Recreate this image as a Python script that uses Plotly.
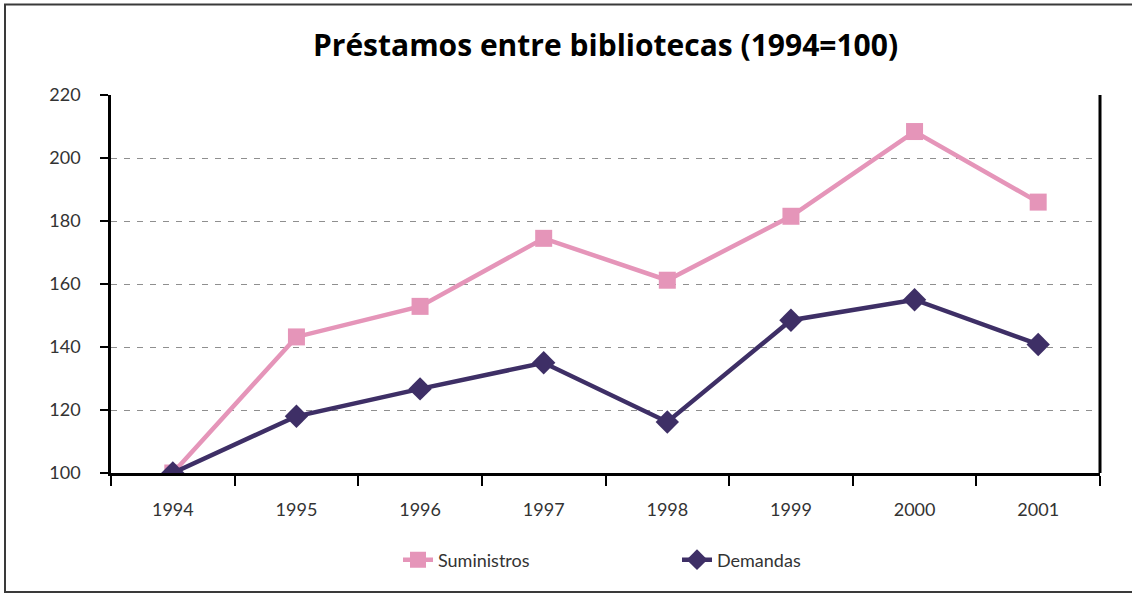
import plotly.graph_objects as go

years = ["1994", "1995", "1996", "1997", "1998", "1999", "2000", "2001"]
suministros = [100, 143.2, 152.9, 174.5, 161.2, 181.5, 208.4, 186.0]
demandas = [100, 118.0, 126.7, 135.0, 116.2, 148.5, 155.0, 140.8]
y_ticks = [100, 120, 140, 160, 180, 200, 220]

PINK = "#E595B9"
PURPLE = "#3E2F66"

fig = go.Figure()
fig.add_trace(go.Scatter(
    x=years, y=suministros, name="Suministros", mode="lines+markers",
    line=dict(color=PINK, width=4.5),
    marker=dict(symbol="square", size=17, color=PINK),
))
fig.add_trace(go.Scatter(
    x=years, y=demandas, name="Demandas", mode="lines+markers",
    line=dict(color=PURPLE, width=4.5),
    marker=dict(symbol="diamond", size=18, color=PURPLE),
))

W, H = 1132, 593
ml, mr, mt, mb = 111, 32, 95, 120
pw, ph = W - ml - mr, H - mt - mb

def px_x(x):
    return (x - ml) / pw

def px_y(y):
    return (H - mb - y) / ph

TICKFONT = dict(family="Lato", size=18, color="#333333")

fig.update_layout(
    width=W, height=H,
    margin=dict(l=ml, r=mr, t=mt, b=mb),
    paper_bgcolor="white", plot_bgcolor="white",
    font=dict(family="Lato", size=18, color="#333333"),
    title=dict(
        text="<b>Préstamos entre bibliotecas (1994=100)</b>",
        x=0.5, xref="paper", xanchor="center",
        y=1 - 45 / H, yanchor="middle",
        font=dict(family="Open Sans", size=30, color="#000000"),
    ),
    showlegend=True,
    legend=dict(
        orientation="h", x=px_x(398), xanchor="left",
        y=px_y(560), yanchor="middle",
        font=TICKFONT,
        entrywidth=234, entrywidthmode="pixels",
        bgcolor="rgba(0,0,0,0)",
    ),
    xaxis=dict(
        type="category", range=[-0.5, 7.5],
        showline=True, linecolor="black", linewidth=2.5,
        mirror=False, showgrid=False,
        ticks="outside", ticklen=10, tickcolor="black", tickwidth=1.5,
        tickson="boundaries", ticklabelstandoff=19,
        tickfont=TICKFONT,
        zeroline=False,
    ),
    yaxis=dict(
        range=[100, 220], tickvals=y_ticks,
        showline=True, linecolor="black", linewidth=2.5,
        ticks="outside", ticklen=8, tickcolor="black", tickwidth=1.5,
        ticklabelstandoff=16,
        showgrid=True, gridcolor="#8f8f8f", griddash="6px,7px", gridwidth=1.2,
        tickfont=TICKFONT,
        zeroline=False,
    ),
    shapes=[
        dict(type="line", xref="paper", yref="paper", x0=1, x1=1, y0=0, y1=1,
             line=dict(color="black", width=3)),
        dict(type="rect", xref="paper", yref="paper",
             x0=px_x(5), x1=px_x(1145), y0=px_y(592), y1=px_y(4.5),
             line=dict(color="#3a3a3a", width=2), layer="below"),
    ],
)

fig.write_html(
    "out.html",
    config={"displayModeBar": False},
    post_script="document.body.style.margin='0';document.body.style.padding='0';",
)
